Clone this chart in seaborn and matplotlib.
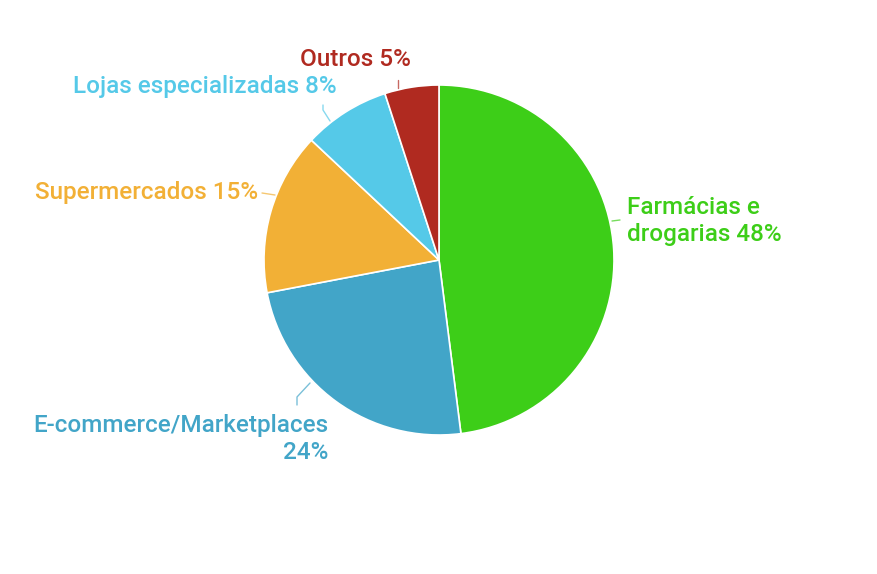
import matplotlib
matplotlib.use("Agg")
import matplotlib.pyplot as plt
import seaborn as sns
import numpy as np

sns.set_theme(style="white")
plt.rcParams['font.family'] = ['Roboto', 'DejaVu Sans']

categories = ["Farmácias e\ndrogarias", "E-commerce/Marketplaces\n", "Supermercados", "Lojas especializadas", "Outros"]
values = [48, 24, 15, 8, 5]
colors = ["#3dce18", "#42a5c8", "#f2b036", "#55c9e8", "#b02a20"]

W, H = 877, 574
fig = plt.figure(figsize=(W / 100, H / 100), dpi=100)
cx, cy, R = 439, 260, 175          # pixel layout of pie (from top)
half = 250
ax = fig.add_axes([(cx - half) / W, (H - cy - half) / H, 2 * half / W, 2 * half / H])

ax.pie(values, colors=colors, startangle=90, counterclock=False, radius=1,
       wedgeprops=dict(edgecolor="white", linewidth=1.2))
lim = half / R
ax.set_xlim(-lim, lim)
ax.set_ylim(-lim, lim)
ax.set_aspect("equal")
ax.axis("off")

def px(x, y):
    return ((x - cx) / R, (cy - y) / R)

# label layout (pixel coords): text anchor, alignment, connector polyline
layout = [
    dict(t=(627, 221), ha="left", line=[(612, 221), (620, 220)]),
    dict(t=(328, 439), ha="right", line=[(310, 383), (297, 397), (297, 405)]),
    dict(t=(258, 193), ha="right", line=[(275, 195), (262, 193)]),
    dict(t=(337, 87), ha="right", line=[(330, 121), (323, 110), (323, 105)]),
    dict(t=(411, 60), ha="right", line=[(398, 88), (398, 80)]),
]

for cat, v, c, lay in zip(categories, values, colors, layout):
    text = f"{cat} {v}%"
    tx, ty = px(*lay["t"])
    ax.text(tx, ty, text, ha=lay["ha"], va="center", color=c, fontsize=17.5,
            fontweight="medium", linespacing=1.27, clip_on=False)
    pts = np.array([px(*p) for p in lay["line"]])
    ax.plot(pts[:, 0], pts[:, 1], color=c, lw=1, alpha=0.7, clip_on=False)

fig.savefig("out.png", dpi=100, facecolor="white")
